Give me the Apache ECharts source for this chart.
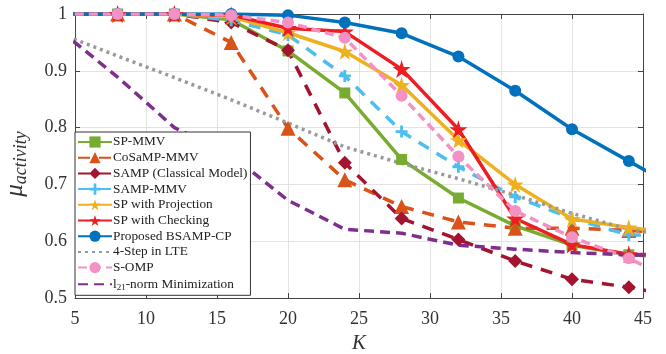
<!DOCTYPE html>
<html>
<head>
<meta charset="utf-8">
<script src="https://cdn.jsdelivr.net/npm/echarts@6/dist/echarts.min.js"></script>
<style>
  html, body { margin: 0; padding: 0; background: #fff; }
  #chart { width: 666px; height: 354px; }
</style>
</head>
<body>
<div id="chart"></div>
<script>
// sparsity levels K (4 and 48 fall just outside the visible axis)
const kValues = [4, 8, 12, 16, 20, 24, 28, 32, 36, 40, 44, 48];

const spMmv      = [1, 1, 1, 0.99, 0.935, 0.861, 0.744, 0.676, 0.627, 0.593, 0.576, 0.57];
const cosampMmv  = [1, 1, 1, 0.95, 0.799, 0.708, 0.661, 0.634, 0.623, 0.623, 0.619, 0.612];
const sampClass  = [1, 1, 1, 0.985, 0.936, 0.738, 0.640, 0.603, 0.565, 0.533, 0.519, 0.50];
const sampMmv    = [1, 1, 1, 0.989, 0.963, 0.891, 0.793, 0.731, 0.678, 0.640, 0.611, 0.61];
const spProj     = [1, 1, 1, 0.995, 0.967, 0.934, 0.875, 0.778, 0.700, 0.639, 0.624, 0.612];
const spCheck    = [1, 1, 1, 0.998, 0.975, 0.969, 0.903, 0.797, 0.640, 0.594, 0.577, 0.575];
const bsampCp    = [1, 1, 1, 1, 0.998, 0.985, 0.966, 0.925, 0.865, 0.797, 0.741, 0.685];
const fourStep   = [0.965, 0.926, 0.888, 0.849, 0.808, 0.766, 0.737, 0.710, 0.681, 0.649, 0.621, 0.605];
const sOmp       = [1, 1, 1, 0.998, 0.985, 0.958, 0.856, 0.749, 0.653, 0.607, 0.570, 0.52];
const l21Min     = [0.97, 0.889, 0.80, 0.752, 0.672, 0.621, 0.614, 0.593, 0.586, 0.580, 0.576, 0.574];

const xTicks = [5, 10, 15, 20, 25, 30, 35, 40, 45];
const yTicks = [0.5, 0.6, 0.7, 0.8, 0.9, 1];

const starPath = 'path://M50,0 L61,35 L98,35 L68,57 L79,91 L50,70 L21,91 L32,57 L2,35 L39,35 Z';
const plusPath = 'path://M38,0 H62 V38 H100 V62 H62 V100 H38 V62 H0 V38 H38 Z';

const font = '"Liberation Serif", "DejaVu Serif", serif';

function pairs(vals) {
    return kValues.map((k, i) => [k, vals[i]]);
}

function makeSeries(name, vals, color, lineType, symbol, size, extra) {
    return Object.assign({
        name: name,
        type: 'line',
        data: pairs(vals),
        clip: true,
        symbol: symbol,
        symbolSize: size,
        showSymbol: symbol !== 'none',
        lineStyle: { color: color, width: 3.5, type: lineType },
        itemStyle: { color: color },
        emphasis: { disabled: true },
        animation: false
    }, extra || {});
}

const series = [
    makeSeries('SP-MMV', spMmv, '#77AC30', 'solid', 'rect', 11),
    makeSeries('CoSaMP-MMV', cosampMmv, '#D95319', [12, 9], 'triangle', 15),
    makeSeries('SAMP (Classical Model)', sampClass, '#A2142F', [12, 9], 'diamond', 14),
    makeSeries('SAMP-MMV', sampMmv, '#4DBEEE', [12, 9], plusPath, 12),
    makeSeries('SP with Projection', spProj, '#EDB120', 'solid', starPath, 17),
    makeSeries('SP with Checking', spCheck, '#EE1D23', 'solid', starPath, 18),
    makeSeries('Proposed BSAMP-CP', bsampCp, '#0072BD', 'solid', 'circle', 12),
    makeSeries('4-Step in LTE', fourStep, '#999999', [3, 4], 'none', 0),
    makeSeries('S-OMP', sOmp, '#F391C4', [9, 5], 'circle', 12),
    makeSeries('l21-norm Minimization', l21Min, '#7E2F8E', [10, 6], 'none', 0)
];

const legendData = series.map(s => s.symbol === 'none'
    ? { name: s.name, itemStyle: { opacity: 0 } }
    : { name: s.name });

const chart = echarts.init(document.getElementById('chart'), null, { renderer: 'canvas' });

const option = {
    animation: false,
    grid: { left: 75, right: 23, top: 14, bottom: 56, show: false, containLabel: false, outerBoundsMode: 'none' },
    legend: {
        data: legendData,
        orient: 'vertical',
        left: 75,
        top: 132,
        itemWidth: 34,
        itemHeight: 14,
        itemGap: 1.7,
        padding: [3, 3, 3, 2],
        borderColor: '#333',
        borderWidth: 1,
        backgroundColor: '#fff',
        textStyle: {
            fontFamily: font, fontSize: 13.3, color: '#222', lineHeight: 14, padding: [0, 0, 0, -4],
            rich: {
                n: { fontFamily: font, fontSize: 13.3, color: '#222', lineHeight: 14 },
                s: { fontFamily: font, fontSize: 9, color: '#222', lineHeight: 14, padding: [7, 0, 0, 0] }
            }
        },
        formatter: function (name) {
            if (name === 'l21-norm Minimization') {
                return '{n|l}{s|21}{n|-norm Minimization}';
            }
            return name;
        },
        selectedMode: false
    },
    xAxis: [{
        type: 'value',
        min: 5, max: 45, interval: 5,
        name: 'K',
        nameLocation: 'middle',
        nameGap: 34,
        nameTextStyle: { fontFamily: font, fontStyle: 'italic', fontSize: 21, color: '#333' },
        axisLine: { show: true, lineStyle: { color: '#444', width: 1 } },
        axisTick: { show: true, inside: true, length: 5, lineStyle: { color: '#444' } },
        axisLabel: {
            fontFamily: font, fontSize: 18, color: '#333', margin: 12,
            formatter: v => xTicks.indexOf(v) >= 0 ? String(v) : ''
        },
        splitLine: { show: true, lineStyle: { color: '#e3e3e3', width: 1 } }
    }, {
        type: 'value',
        position: 'top',
        min: 5, max: 45, interval: 5,
        axisLine: { show: true, lineStyle: { color: '#444', width: 1 } },
        axisTick: { show: true, inside: true, length: 5, lineStyle: { color: '#444' } },
        axisLabel: { show: false },
        splitLine: { show: false }
    }],
    yAxis: [{
        type: 'value',
        min: 0.5, max: 1, interval: 0.1,
        name: '{mu|μ}{sub|activity}',
        nameLocation: 'middle',
        nameGap: 45,
        nameRotate: 90,
        nameTextStyle: {
            padding: [0, 16, 0, 0],
            rich: {
                mu: { fontFamily: font, fontStyle: 'italic', fontSize: 25, color: '#333' },
                sub: { fontFamily: font, fontStyle: 'italic', fontSize: 18, color: '#333', padding: [11, 0, 0, 0] }
            }
        },
        axisLine: { show: true, lineStyle: { color: '#444', width: 1 } },
        axisTick: { show: true, inside: true, length: 5, lineStyle: { color: '#444' } },
        axisLabel: {
            fontFamily: font, fontSize: 18, color: '#333', margin: 8,
            formatter: v => {
                const t = yTicks.find(y => Math.abs(y - v) < 1e-6);
                if (t === undefined) return '';
                return t === 1 ? '1' : t.toFixed(1);
            }
        },
        splitLine: { show: true, lineStyle: { color: '#e3e3e3', width: 1 } }
    }, {
        type: 'value',
        position: 'right',
        min: 0.5, max: 1, interval: 0.1,
        axisLine: { show: true, lineStyle: { color: '#444', width: 1 } },
        axisTick: { show: true, inside: true, length: 5, lineStyle: { color: '#444' } },
        axisLabel: { show: false },
        splitLine: { show: false }
    }],
    series: series
};

if (option && typeof option === 'object') {
    chart.setOption(option);
}

window.addEventListener('resize', chart.resize);
</script>
</body>
</html>
